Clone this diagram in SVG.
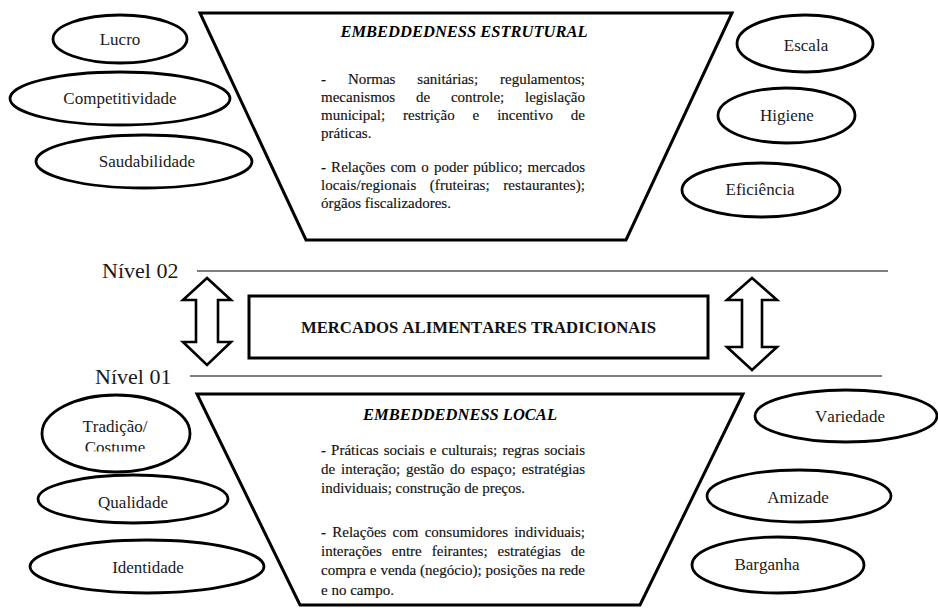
<svg xmlns="http://www.w3.org/2000/svg" width="938" height="608" viewBox="0 0 938 608">
<style>
.shape{fill:#fff;stroke:#000;stroke-width:3;stroke-linejoin:miter}
.ell{fill:#fff;stroke:#000;stroke-width:2.8}
.lbl{font-family:"Liberation Serif","Times New Roman",serif;font-size:17px;fill:#1a1a1a;text-anchor:middle;font-kerning:none}
.body{font-family:"Liberation Serif","Times New Roman",serif;font-size:15px;fill:#111;stroke:#111;stroke-width:0.15;font-kerning:none}
.ttl{font-family:"Liberation Serif","Times New Roman",serif;font-size:16.5px;font-weight:bold;font-style:italic;fill:#000;text-anchor:middle;font-kerning:none}
.mid{font-family:"Liberation Serif","Times New Roman",serif;font-size:16.7px;font-weight:bold;fill:#111;text-anchor:middle;font-kerning:none}
.lvl{font-family:"Liberation Serif","Times New Roman",serif;font-size:22px;fill:#1a1a1a;font-kerning:none}
.lvline{stroke:#555;stroke-width:1.5}
.arrow{fill:#fff;stroke:#000;stroke-width:2.6;stroke-linejoin:miter}
</style>
<defs>
<clipPath id="clipTrad"><rect x="30" y="390" width="180" height="61.5"/></clipPath>
</defs>

<rect width="938" height="608" fill="#fff"/>

<g id="levels">
<line class="lvline" x1="197" y1="271" x2="888" y2="271"/>
<line class="lvline" x1="190" y1="376" x2="882" y2="376"/>
<text class="lvl" x="102" y="278">Nível 02</text>
<text class="lvl" x="95" y="384">Nível 01</text>
</g>

<g id="embeddedness-estrutural">
<polygon class="shape" points="200,13 732,13 626,240 306,240"/>
<text class="ttl" x="464" y="37">EMBEDDEDNESS ESTRUTURAL</text>
<text class="body" x="321" y="84" word-spacing="18.15" textLength="264" lengthAdjust="spacing">- Normas sanitárias; regulamentos;</text>
<text class="body" x="321" y="102" word-spacing="17.04" textLength="264" lengthAdjust="spacing">mecanismos de controle; legislação</text>
<text class="body" x="321" y="120" word-spacing="14.13" textLength="264" lengthAdjust="spacing">municipal; restrição e incentivo de</text>
<text class="body" x="321" y="138">práticas.</text>
<text class="body" x="321" y="172" word-spacing="1.37" textLength="264" lengthAdjust="spacing">- Relações com o poder público; mercados</text>
<text class="body" x="321" y="190" word-spacing="9.55" textLength="264" lengthAdjust="spacing">locais/regionais (fruteiras; restaurantes);</text>
<text class="body" x="321" y="208">órgãos fiscalizadores.</text>
</g>

<g id="mercados">
<rect class="shape" x="249" y="296" width="459" height="62"/>
<text class="mid" x="478.5" y="333">MERCADOS ALIMENTARES TRADICIONAIS</text>
</g>

<g id="embeddedness-local">
<polygon class="shape" points="197,394 743,394 640,605 300,605"/>
<text class="ttl" x="460" y="420">EMBEDDEDNESS LOCAL</text>
<text class="body" x="321" y="455" word-spacing="1.37" textLength="264" lengthAdjust="spacing">- Práticas sociais e culturais; regras sociais</text>
<text class="body" x="321" y="474" word-spacing="2.06" textLength="264" lengthAdjust="spacing">de interação; gestão do espaço; estratégias</text>
<text class="body" x="321" y="493">individuais; construção de preços.</text>
<text class="body" x="321" y="537" word-spacing="2.47" textLength="264" lengthAdjust="spacing">- Relações com consumidores individuais;</text>
<text class="body" x="321" y="556" word-spacing="6.23" textLength="264" lengthAdjust="spacing">interações entre feirantes; estratégias de</text>
<text class="body" x="321" y="575" word-spacing="0.13" textLength="264" lengthAdjust="spacing">compra e venda (negócio); posições na rede</text>
<text class="body" x="321" y="595">e no campo.</text>
</g>

<g id="lucro"><ellipse class="ell" cx="120" cy="39" rx="67" ry="24"/><text class="lbl" x="120" y="45">Lucro</text></g>
<g id="competitividade"><ellipse class="ell" cx="120" cy="98.5" rx="110" ry="26.5"/><text class="lbl" x="120" y="104">Competitividade</text></g>
<g id="saudabilidade"><ellipse class="ell" cx="144" cy="161.5" rx="108" ry="26.5"/><text class="lbl" x="147" y="167">Saudabilidade</text></g>

<g id="escala"><ellipse class="ell" cx="805" cy="43.5" rx="68" ry="28.5"/><text class="lbl" x="806" y="51">Escala</text></g>
<g id="higiene"><ellipse class="ell" cx="786.5" cy="115.5" rx="68.5" ry="27.5"/><text class="lbl" x="787" y="121">Higiene</text></g>
<g id="eficiencia"><ellipse class="ell" cx="761" cy="190" rx="79" ry="27"/><text class="lbl" x="760" y="195">Eficiência</text></g>

<g id="tradicao"><ellipse class="ell" cx="116" cy="433.5" rx="74" ry="38.5"/>
<g clip-path="url(#clipTrad)"><text class="lbl" x="115" y="432">Tradição/</text><text class="lbl" x="115" y="453">Costume</text></g></g>
<g id="qualidade"><ellipse class="ell" cx="133" cy="499" rx="95" ry="24"/><text class="lbl" x="133" y="508">Qualidade</text></g>
<g id="identidade"><ellipse class="ell" cx="147" cy="566.5" rx="117" ry="26.5"/><text class="lbl" x="148" y="573">Identidade</text></g>

<g id="variedade"><ellipse class="ell" cx="846" cy="416" rx="91" ry="26"/><text class="lbl" x="850" y="422">Variedade</text></g>
<g id="amizade"><ellipse class="ell" cx="799" cy="496" rx="92" ry="26"/><text class="lbl" x="798" y="503">Amizade</text></g>
<g id="barganha"><ellipse class="ell" cx="778" cy="565" rx="86" ry="28"/><text class="lbl" x="767" y="570">Barganha</text></g>

<g id="connectors">
<polygon class="arrow" points="207,278 231,300 218,300 218,342 231,342 207,365 183,342 196,342 196,300 183,300"/>
<polygon class="arrow" points="752,278 777,300 762,300 762,347 777,347 752,370 727,347 742,347 742,300 727,300"/>
</g>
</svg>
